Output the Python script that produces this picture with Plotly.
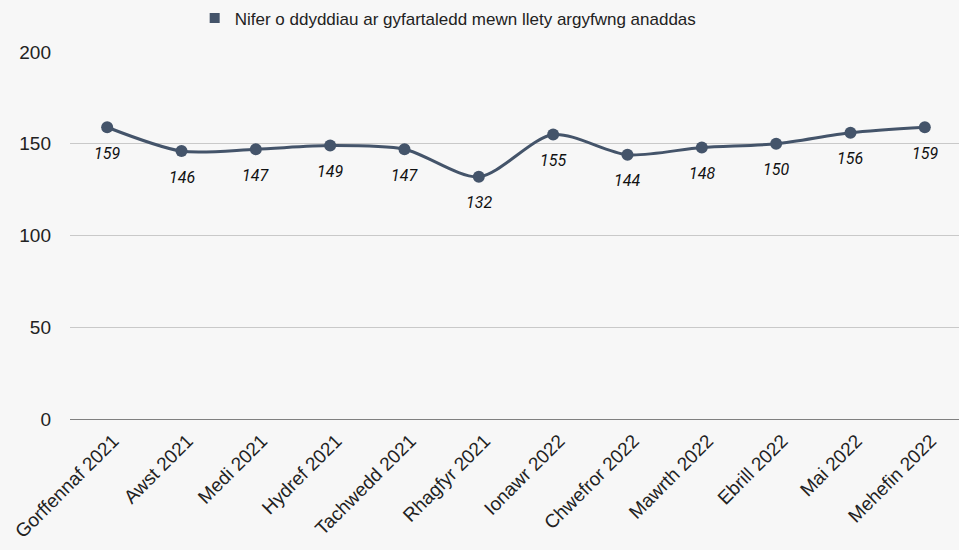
import plotly.graph_objects as go

months = ["Gorffennaf 2021", "Awst 2021", "Medi 2021", "Hydref 2021", "Tachwedd 2021",
          "Rhagfyr 2021", "Ionawr 2022", "Chwefror 2022", "Mawrth 2022", "Ebrill 2022",
          "Mai 2022", "Mehefin 2022"]
values = [159, 146, 147, 149, 147, 132, 155, 144, 148, 150, 156, 159]
series_name = "Nifer o ddyddiau ar gyfartaledd mewn llety argyfwng anaddas"
y_ticks = [0, 50, 100, 150, 200]

color = "#44546a"
x_idx = list(range(len(months)))

fig = go.Figure()
fig.add_trace(go.Scatter(
    x=x_idx, y=values, mode="lines+markers",
    line=dict(color=color, width=3, shape="spline", smoothing=0.8),
    marker=dict(color=color, size=12),
    showlegend=False, hoverinfo="skip",
))
fig.add_trace(go.Scatter(
    x=[None], y=[None], mode="markers", name=series_name,
    marker=dict(color=color, size=10, symbol="square"),
))

for xi, v in zip(x_idx, values):
    fig.add_annotation(x=xi, y=v, text=f"<i>{v}</i>", showarrow=False,
                       yshift=-26, font=dict(family="Roboto", size=16, color="#111111"))

fig.update_layout(
    width=959, height=550,
    paper_bgcolor="#f7f7f7", plot_bgcolor="#f7f7f7",
    margin=dict(l=70, r=0, t=52, b=131, autoexpand=False),
    font=dict(family="Liberation Sans, Arial, sans-serif", size=17, color="#222222"),
    legend=dict(orientation="h", xref="container", x=0.203, xanchor="left",
                yref="container", y=0.999, yanchor="top", font=dict(size=17), itemwidth=30),
    xaxis=dict(range=[-0.5, 11.46], tickmode="array", tickvals=x_idx, ticktext=months,
               tickangle=-45, showgrid=False, zeroline=False, showline=False, ticks="",
               automargin=False, ticklabelstandoff=6, ticklabelshift=6,
               tickfont=dict(size=19)),
    yaxis=dict(range=[0, 200], tickmode="array", tickvals=y_ticks, showgrid=True,
               gridcolor="#c9c9c9", gridwidth=1, zeroline=True, zerolinecolor="#808080",
               zerolinewidth=1, ticks="", ticklabelstandoff=18, automargin=False,
               tickfont=dict(size=19)),
)
fig.write_html("out.html", config={"displayModeBar": False},
               post_script="document.body.style.margin='0';")
